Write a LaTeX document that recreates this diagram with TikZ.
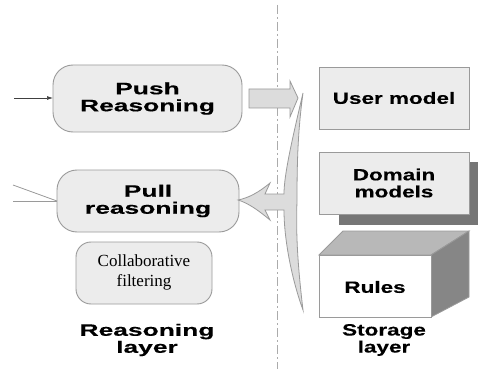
\documentclass[tikz,border=0pt]{standalone}
\usepackage{fontspec}
\setmainfont{Liberation Serif}
\newfontfamily\leftbold[FakeStretch=1.6,FakeBold=0.3]{Liberation Sans Bold}
\newfontfamily\rightbold[FakeStretch=1.38,FakeBold=0.3]{Liberation Sans Bold}
\usetikzlibrary{arrows.meta}
\definecolor{boxfill}{HTML}{ECECEC}
\definecolor{boxline}{HTML}{9A9A9A}
\definecolor{sepline}{HTML}{ABABAB}
\definecolor{arrowfill}{HTML}{DCDCDC}
\definecolor{shadowgray}{HTML}{767676}
\definecolor{topgray}{HTML}{B8B8B8}
\definecolor{sidegray}{HTML}{868686}
\tikzset{
  reasonbox/.style={draw=boxline, fill=boxfill, line width=0.9pt, rounded corners=20pt},
  storebox/.style={draw=boxline, fill=boxfill, line width=0.9pt},
  lefttext/.style={align=center, font=\leftbold\fontsize{16.5}{17}\selectfont, inner sep=0pt},
  righttext/.style={align=center, font=\rightbold\fontsize{16.3}{17}\selectfont, inner sep=0pt},
  seriftext/.style={align=center, font=\fontsize{17}{20}\selectfont, inner sep=0pt},
  thinline/.style={draw=boxline, line width=0.8pt},
  blockarrow/.style={draw=boxline, fill=arrowfill, line width=0.8pt, line join=miter},
}
\begin{document}
\begin{tikzpicture}[x=1pt,y=-1pt]
\useasboundingbox (0,0) rectangle (480,369);
\fill[white] (0,0) rectangle (480,369);

% layer separator
\draw[sepline, line width=0.8pt, dash pattern=on 9pt off 3pt on 2pt off 3pt] (277,5) -- (277,369);

% reasoning layer
\path[reasonbox] (53,65) rectangle (242,132);
\node[lefttext] (push) at (147.5,98.5) {Push\\Reasoning};
\coordinate (pushW) at (53,98);
\path[reasonbox] (57,170) rectangle (239,232);
\node[lefttext] (pull) at (148,201) {Pull\\reasoning};
\coordinate (pullW) at (57,201);
\path[reasonbox, rounded corners=15pt] (76,242) rectangle (212,304);
\node[seriftext] (collab) at (144,272) {Collaborative\\filtering};
\node[lefttext] (rlayer) at (147,340) {Reasoning\\layer};

% inputs on the left
\coordinate (inPush) at (14,98);
\coordinate (inPullA) at (13,185);
\coordinate (inPullB) at (13,201);
\draw[black!75, line width=0.7pt, -{Latex[length=6pt,width=4pt]}] (inPush) -- (pushW);
\draw[thinline] (inPullA) -- (pullW);
\draw[thinline] (inPullB) -- (pullW);

% push block arrow
\path[blockarrow] (249,89) -- (290,89) -- (290,81) -- (298,98) -- (290,117) -- (290,108) -- (249,108) -- cycle;

% pull block arrow with spindle tail
\path[blockarrow] (303,93)
  .. controls (292,140) and (284,175) .. (284,194)
  -- (265,194) -- (270,183)
  .. controls (258,193) and (248,198) .. (238,200)
  .. controls (248,203) and (258,210) .. (270,220)
  -- (265,210) -- (284,210)
  .. controls (284,240) and (292,280) .. (303,310)
  .. controls (297,260) and (296,230) .. (297,201)
  .. controls (297,160) and (298,130) .. (303,93) -- cycle;

% storage layer
\path[storebox] (319,67) rectangle (469,129);
\node[righttext] (user) at (394,98) {User model};
\fill[shadowgray] (339,162) rectangle (478,225);
\path[storebox] (319,152) rectangle (469,214);
\node[righttext] (domain) at (394,183) {Domain\\models};
\path[draw=boxline, fill=topgray, line width=0.8pt] (319,255) -- (343,231) -- (469,231) -- (431,255) -- cycle;
\path[draw=boxline, fill=sidegray, line width=0.8pt] (431,255) -- (469,231) -- (469,297) -- (431,317) -- cycle;
\path[draw=boxline, fill=white, line width=0.8pt] (319,255) rectangle (431,317);
\node[righttext] (rules) at (375,287) {Rules};
\node[righttext] (slayer) at (384,340) {Storage\\layer};
\end{tikzpicture}
\end{document}
